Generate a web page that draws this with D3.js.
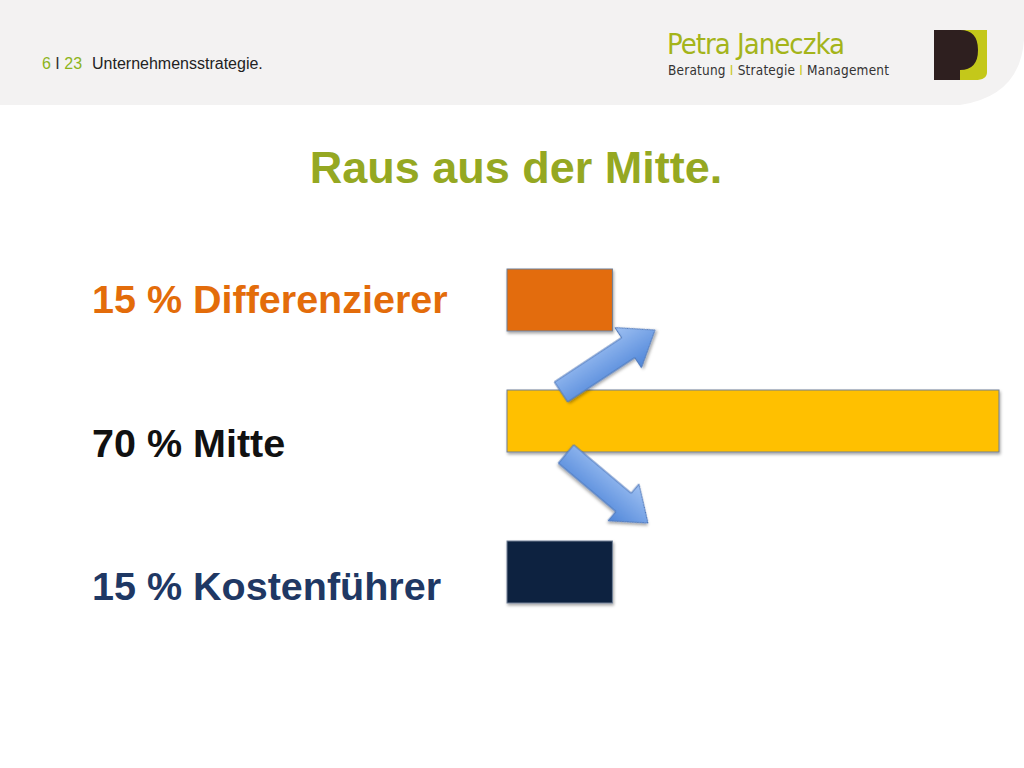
<!DOCTYPE html>
<html><head><meta charset="utf-8">
<script src="https://cdn.jsdelivr.net/npm/d3@7"></script>
<style>body{margin:0;background:#fff}svg{display:block}</style>
</head><body>
<svg id="chart" width="1024" height="768"></svg>
<script>
// Shares of companies by strategy position
const labels = ["15 % Differenzierer", "70 % Mitte", "15 % Kostenführer"];
const shares = [15, 70, 15];
const labelColors = ["#e36c0a", "#111111", "#1f3864"];
const barColors = ["#e36c0a", "#ffc000", "#10243f"];

const svg = d3.select("#chart");

const defs = svg.append("defs");
const grad = defs.append("linearGradient").attr("id", "arrowGrad")
  .attr("x1", 0).attr("y1", 0).attr("x2", 0).attr("y2", 1);
grad.append("stop").attr("offset", "0%").attr("stop-color", "#9ec0f2");
grad.append("stop").attr("offset", "100%").attr("stop-color", "#4f86d9");
const shadow = defs.append("filter").attr("id", "shadow");
shadow.append("feDropShadow").attr("dx", 1).attr("dy", 2).attr("stdDeviation", 1.5).attr("flood-opacity", 0.35);

// header band
svg.append("path")
  .attr("d", "M0,0 H1024 V40 Q1020,96 960,105 H0 Z")
  .attr("fill", "#f3f2f2");
const hdr = svg.append("text").attr("x", 42).attr("y", 69)
  .attr("font-family", "Liberation Sans, Arial, sans-serif").attr("font-size", 16);
hdr.append("tspan").attr("fill", "#8db41a").text("6");
hdr.append("tspan").attr("fill", "#333").text(" I ");
hdr.append("tspan").attr("fill", "#8db41a").text("23");
hdr.append("tspan").attr("fill", "#222").attr("dx", 10).text("Unternehmensstrategie.");

svg.append("text").attr("x", 667).attr("y", 54)
  .attr("font-family", "DejaVu Sans Condensed, DejaVu Sans, sans-serif").attr("font-size", 29)
  .attr("textLength", 178).attr("fill", "#a4b41a").text("Petra Janeczka");
const sub = svg.append("text").attr("x", 668).attr("y", 75)
  .attr("font-family", "DejaVu Sans Condensed, DejaVu Sans, sans-serif").attr("font-size", 13.5)
  .attr("textLength", 221).attr("fill", "#333");
sub.append("tspan").text("Beratung ");
sub.append("tspan").attr("fill", "#c8c81a").text("I");
sub.append("tspan").text(" Strategie ");
sub.append("tspan").attr("fill", "#c8c81a").text("I");
sub.append("tspan").text(" Management");

// logo
svg.append("path").attr("d", "M960,30 H987 V72 Q987,80 975,80 H960 Z").attr("fill", "#c4c81a");
svg.append("path").attr("d", "M934,30 H960 Q978,30 978,50 Q978,70 960,70 V80 H934 Z").attr("fill", "#2e1f1f");

// title
svg.append("text").attr("x", 516).attr("y", 183).attr("text-anchor", "middle")
  .attr("font-family", "Liberation Sans, Arial, sans-serif").attr("font-weight", "bold")
  .attr("font-size", 45).attr("fill", "#95a822").text("Raus aus der Mitte.");

// scales
const y = d3.scaleOrdinal().domain(labels).range([269, 390, 541]);
const labelY = d3.scaleOrdinal().domain(labels).range([313, 457, 600]);
const barH = 62;
const x = d3.scaleLinear().domain([0, 70]).range([507, 999]);

svg.append("g").selectAll("text").data(labels).join("text")
  .attr("x", 92).attr("y", d => labelY(d))
  .attr("font-family", "Liberation Sans, Arial, sans-serif").attr("font-weight", "bold")
  .attr("font-size", 39.5).attr("fill", (d, i) => labelColors[i]).text(d => d);

svg.append("g").selectAll("rect").data(labels).join("rect")
  .attr("x", x(0)).attr("y", d => y(d))
  .attr("width", (d, i) => x(shares[i]) - x(0)).attr("height", barH)
  .attr("fill", (d, i) => barColors[i]).attr("stroke", "#6f7f96").attr("stroke-width", 1)
  .attr("filter", "url(#shadow)");

// arrows
function arrow(x0, y0, x1, y1) {
  const len = Math.hypot(x1 - x0, y1 - y0), ang = Math.atan2(y1 - y0, x1 - x0) * 180 / Math.PI;
  const w = 12, hw = 24, hl = 32;
  svg.append("path")
    .attr("d", `M0,${-w} H${len - hl} V${-hw} L${len},0 L${len - hl},${hw} V${w} H0 Z`)
    .attr("transform", `translate(${x0},${y0}) rotate(${ang})`)
    .attr("fill", "url(#arrowGrad)").attr("stroke", "#4a74b8").attr("stroke-width", 1)
    .attr("filter", "url(#shadow)");
}
arrow(561, 392, 655, 330);
arrow(566, 454, 648, 523);
</script>
</body></html>
